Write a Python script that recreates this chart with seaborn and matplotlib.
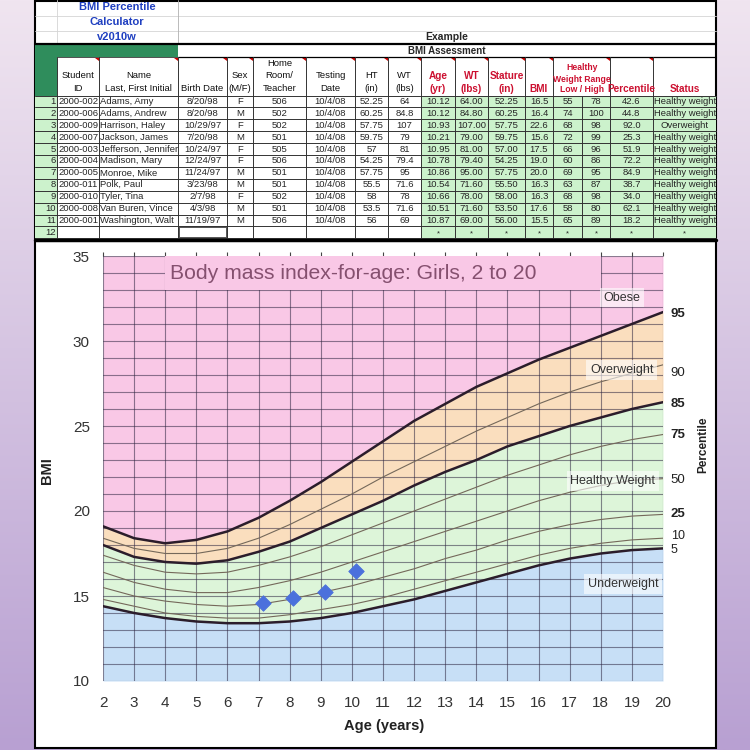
import matplotlib
matplotlib.use("Agg")

import numpy as np
import matplotlib.pyplot as plt
from matplotlib.patches import Rectangle, Polygon
from matplotlib.colors import LinearSegmentedColormap
import seaborn as sns


# ---- chart data (BMI-for-age percentiles, girls) ----
ages = list(range(2, 21))
p5 = [14.4, 14.0, 13.7, 13.5, 13.4, 13.4, 13.5, 13.7, 14.0, 14.4, 14.8, 15.3, 15.8, 16.3, 16.8, 17.2, 17.5, 17.7, 17.8]
p10 = [14.8, 14.4, 14.0, 13.8, 13.7, 13.7, 13.9, 14.2, 14.5, 14.9, 15.4, 15.9, 16.4, 16.9, 17.4, 17.8, 18.1, 18.3, 18.4]
p25 = [15.5, 15.0, 14.7, 14.5, 14.4, 14.5, 14.8, 15.2, 15.6, 16.1, 16.6, 17.2, 17.7, 18.3, 18.8, 19.2, 19.5, 19.7, 19.8]
p50 = [16.4, 15.8, 15.4, 15.2, 15.2, 15.5, 15.9, 16.4, 17.0, 17.6, 18.2, 18.8, 19.4, 20.0, 20.6, 21.1, 21.5, 21.8, 21.9]
p75 = [17.4, 16.8, 16.4, 16.3, 16.4, 16.8, 17.3, 17.9, 18.6, 19.3, 20.0, 20.7, 21.4, 22.1, 22.7, 23.3, 23.8, 24.2, 24.5]
p85 = [18.0, 17.3, 17.0, 16.9, 17.1, 17.6, 18.2, 19.0, 19.8, 20.6, 21.5, 22.3, 23.0, 23.8, 24.4, 25.0, 25.5, 26.0, 26.4]
p90 = [18.4, 17.8, 17.5, 17.5, 17.8, 18.4, 19.2, 20.1, 21.0, 22.0, 22.9, 23.8, 24.7, 25.5, 26.3, 27.0, 27.6, 28.1, 28.6]
p95 = [19.1, 18.4, 18.1, 18.3, 18.8, 19.6, 20.6, 21.7, 22.9, 24.1, 25.3, 26.3, 27.3, 28.1, 28.9, 29.6, 30.3, 31.0, 31.7]
child_age = [7.15, 8.12, 9.12, 10.13]
child_bmi = [14.6, 14.9, 15.25, 16.5]

# ---- spreadsheet data ----
student_ids = ["2000-002", "2000-006", "2000-009", "2000-007", "2000-003", "2000-004",
               "2000-005", "2000-011", "2000-010", "2000-008", "2000-001"]
names = ["Adams, Amy", "Adams, Andrew", "Harrison, Haley", "Jackson, James", "Jefferson, Jennifer",
         "Madison, Mary", "Monroe, Mike", "Polk, Paul", "Tyler, Tina", "Van Buren, Vince", "Washington, Walt"]
birth_dates = ["8/20/98", "8/20/98", "10/29/97", "7/20/98", "10/24/97", "12/24/97",
               "11/24/97", "3/23/98", "2/7/98", "4/3/98", "11/19/97"]
sexes = ["F", "M", "F", "M", "F", "F", "M", "M", "F", "M", "M"]
rooms = ["506", "502", "502", "501", "505", "506", "501", "501", "502", "501", "506"]
test_date = "10/4/08"
heights = ["52.25", "60.25", "57.75", "59.75", "57", "54.25", "57.75", "55.5", "58", "53.5", "56"]
weights = ["64", "84.8", "107", "79", "81", "79.4", "95", "71.6", "78", "71.6", "69"]
ages_yr = [10.12, 10.12, 10.93, 10.21, 10.95, 10.78, 10.86, 10.54, 10.66, 10.51, 10.87]
bmis = [16.5, 16.4, 22.6, 15.6, 17.5, 19.0, 20.0, 16.3, 16.3, 17.6, 15.5]
low_wt = [55, 74, 68, 72, 66, 60, 69, 63, 68, 58, 65]
high_wt = [78, 100, 98, 99, 96, 86, 95, 87, 98, 80, 89]
percentiles = [42.6, 44.8, 92.0, 25.3, 51.9, 72.2, 84.9, 38.7, 34.0, 62.1, 18.2]
statuses = ["Healthy weight", "Healthy weight", "Overweight"] + ["Healthy weight"] * 8

sns.set_style("white")
plt.rcParams["font.family"] = ["Liberation Sans", "DejaVu Sans"]

fig = plt.figure(figsize=(7.5, 7.5), dpi=100)

# background + panel, drawn in pixel coordinates
bg = fig.add_axes([0, 0, 1, 1], zorder=0)
grad = np.linspace(0, 1, 256).reshape(-1, 1)
cmap = LinearSegmentedColormap.from_list("bg", ["#f0e5f0", "#b8a0d2"])
bg.imshow(grad, cmap=cmap, extent=(0, 750, 750, 0), aspect="auto")
bg.set_xlim(0, 750)
bg.set_ylim(750, 0)
bg.axis("off")
bg.add_patch(Rectangle((35, 0.8), 681, 747.2, facecolor="white", edgecolor="black", lw=1.5))

# ---- spreadsheet ----
edges = [35, 57, 99, 178, 227, 253, 306, 355, 388, 421, 455, 488, 525, 553, 582, 610, 653, 716]
row_top, row_h, n_rows = 95.5, 11.9, 12
row_bot = row_top + row_h * n_rows
fs = 6.8
dark_green = "#2f8d5c"
light_green = "#ccf2cc"
red = "#cc1030"

bg.add_patch(Rectangle((35, 44), 143, 13, facecolor=dark_green, lw=0))
bg.add_patch(Rectangle((35, 57), 22, row_top - 57, facecolor=dark_green, lw=0))
bg.add_patch(Rectangle((35, row_top), 22, row_bot - row_top, facecolor=light_green, lw=0))
bg.add_patch(Rectangle((421, row_top), 295, row_bot - row_top, facecolor=light_green, lw=0))

for yy in (15.5, 31):
    bg.plot([35, 716], [yy, yy], color="#d4d4d4", lw=0.6)
bg.plot([57, 57], [0, 44], color="#d4d4d4", lw=0.6)
bg.plot([178, 178], [0, 44], color="#b0b0b0", lw=0.6)
bg.plot([35, 716], [44, 44], color="black", lw=1.6)
bg.plot([178, 716], [57, 57], color="black", lw=0.9)
bg.plot([57, 178], [57, 57], color="#333333", lw=0.6)
for k in range(n_rows + 1):
    yy = row_top + k * row_h
    bg.plot([35, 716], [yy, yy], color="#333333", lw=0.7)
for x in edges[1:-1]:
    y0 = row_top if x == 582 else 57
    bg.plot([x, x], [y0, row_bot], color="#333333", lw=0.7)
bg.plot([35, 716], [240, 240], color="black", lw=2.5)

# comment markers on header cells
for x in edges[2:-1]:
    if x == 582:
        continue
    bg.add_patch(Polygon([(x - 4, 57.5), (x - 0.5, 57.5), (x - 0.5, 61)], closed=True,
                         facecolor="#cc0000", lw=0))

bg.text(117, 7, "BMI Percentile", ha="center", va="center", fontsize=8, fontweight="bold", color="#1f3fc0")
bg.text(117, 22, "Calculator", ha="center", va="center", fontsize=8, fontweight="bold", color="#1f3fc0")
bg.text(117, 37, "v2010w", ha="center", va="center", fontsize=8, fontweight="bold", color="#1f3fc0")
bg.text(447, 37.5, "Example", ha="center", va="center", fontsize=7.5, fontweight="bold")
bg.text(447, 51, "BMI Assessment", ha="center", va="center", fontsize=7, fontweight="bold")


def center(i):
    return (edges[i] + edges[i + 1]) / 2


headers = [
    (1, ["Student", "ID"], False), (2, ["Name", "Last, First Initial"], False),
    (3, ["Birth Date"], False), (4, ["Sex", "(M/F)"], False),
    (5, ["Home", "Room/", "Teacher"], False), (6, ["Testing", "Date"], False),
    (7, ["HT", "(in)"], False), (8, ["WT", "(lbs)"], False),
    (9, ["Age", "(yr)"], True), (10, ["WT", "(lbs)"], True),
    (11, ["Stature", "(in)"], True), (12, ["BMI"], True),
    (15, ["Percentile"], True), (16, ["Status"], True),
]
for col, lines, is_red in headers:
    n = len(lines)
    for j, line in enumerate(lines):
        yy = 88.5 - (n - 1 - j) * 12.5
        bg.text(center(col), yy, line, ha="center", va="center", fontsize=7.2 if is_red else fs,
                fontweight="bold" if is_red else "normal", color=red if is_red else "#111111")
for yy, line in zip([68, 79, 89.5], ["Healthy", "Weight Range", "Low / High"]):
    bg.text(582, yy, line, ha="center", va="center", fontsize=6.2, fontweight="bold", color=red)

status_clip = Rectangle((653, row_top), 62, row_bot - row_top, transform=bg.transData)
for i in range(len(names)):
    yy = row_top + (i + 0.5) * row_h
    bg.text(56, yy, str(i + 1), ha="right", va="center", fontsize=fs)
    bg.text(58.5, yy, student_ids[i], ha="left", va="center", fontsize=fs)
    bg.text(100.5, yy, names[i], ha="left", va="center", fontsize=fs)
    vals = [birth_dates[i], sexes[i], rooms[i], test_date, heights[i], weights[i],
            f"{ages_yr[i]:.2f}", f"{float(weights[i]):.2f}", f"{float(heights[i]):.2f}",
            f"{bmis[i]:.1f}", str(low_wt[i]), str(high_wt[i]), f"{percentiles[i]:.1f}"]
    for col, v in zip(range(3, 16), vals):
        bg.text(center(col), yy, v, ha="center", va="center", fontsize=fs)
    if statuses[i] == "Overweight":
        bg.text(center(16), yy, statuses[i], ha="center", va="center", fontsize=fs)
    else:
        t = bg.text(654.5, yy, statuses[i], ha="left", va="center", fontsize=fs)
        t.set_clip_path(status_clip)
yy = row_top + (n_rows - 0.5) * row_h
bg.text(56, yy, "12", ha="right", va="center", fontsize=fs)
for col in range(9, 17):
    bg.text(center(col), yy + 1.5, "*", ha="center", va="center", fontsize=5.5)
bg.add_patch(Rectangle((178.5, row_bot - row_h + 0.8), 48, row_h - 1.6, facecolor="none",
                       edgecolor="#555555", lw=1.4))

# ---- BMI chart ----
pink, peach, green, blue = "#f9c8e6", "#fadebe", "#ddf5d9", "#c7dff6"
ax = fig.add_axes([103 / 750, 69 / 750, 560 / 750, 425 / 750], zorder=1)
ax.patch.set_alpha(0)

ax.fill_between(ages, p95, 35, color=pink, lw=0)
ax.fill_between(ages, p85, p95, color=peach, lw=0)
ax.fill_between(ages, p5, p85, color=green, lw=0)
ax.fill_between(ages, 10, p5, color=blue, lw=0)

for vals in (p10, p25, p50, p75, p90):
    sns.lineplot(x=ages, y=vals, ax=ax, color="#74685a", lw=0.8)
for vals in (p5, p85, p95):
    sns.lineplot(x=ages, y=vals, ax=ax, color="#2b1d2b", lw=1.8)

sns.scatterplot(x=child_age, y=child_bmi, ax=ax, marker="D", s=62, color="#4b70dc",
                edgecolor="#4b70dc", zorder=5)

ax.set_xlim(2, 20)
ax.set_ylim(10, 35)
ax.set_xticks(ages)
ax.set_yticks(range(10, 36, 5))
ax.set_yticks(range(10, 36), minor=True)
ax.grid(True, which="both", color="#2d2540", alpha=0.55, lw=0.8)
ax.set_axisbelow("line")
for s in ax.spines.values():
    s.set_visible(False)
ax.tick_params(axis="x", bottom=False, top=True, length=3, width=0.8, color="#444444",
               labelsize=11, labelcolor="#333333", pad=8)
ax.tick_params(axis="y", which="major", length=4.5, width=0.8, color="#444444",
               labelsize=11, labelcolor="#333333", pad=5)
ax.tick_params(axis="y", which="minor", length=0)

# title box over the grid
ax.add_patch(Rectangle((4, 33), 14, 2, facecolor=pink, lw=0, zorder=1.8))
ax.text(4.15, 33.95, "Body mass index-for-age: Girls, 2 to 20", fontsize=15.2,
        color="#85506f", va="center", ha="left", zorder=3)

box = dict(facecolor="white", alpha=0.6, edgecolor="none", boxstyle="square,pad=0.3")
ax.text(18.68, 32.55, "Obese", fontsize=9, color="#333333", ha="center", va="center", bbox=box, zorder=4)
ax.text(18.68, 28.3, "Overweight", fontsize=9, color="#333333", ha="center", va="center", bbox=box, zorder=4)
ax.text(18.39, 21.76, "Healthy Weight", fontsize=9, color="#333333", ha="center", va="center", bbox=box, zorder=4)
ax.text(18.71, 15.7, "Underweight", fontsize=9, color="#333333", ha="center", va="center", bbox=box, zorder=4)

pct_names = ["95", "90", "85", "75", "50", "25", "10", "5"]
pct_series = [p95, p90, p85, p75, p50, p25, p10, p5]
pct_shift = [-0.1, -0.5, -0.1, 0.0, -0.1, 0.0, 0.12, -0.12]
pct_bold = [True, False, True, True, False, True, False, False]
for lab, vals, sh, b in zip(pct_names, pct_series, pct_shift, pct_bold):
    ax.text(20.25, vals[-1] + sh, lab, fontsize=9.5 if lab not in ("10", "5") else 9,
            fontweight="bold" if b else "normal",
            color="#222222", ha="left", va="center", clip_on=False)

ax.text(1.071, 0.555, "Percentile", transform=ax.transAxes, rotation=90, fontsize=8.5,
        fontweight="bold", ha="center", va="center", color="#222222")
ax.set_ylabel("BMI", fontsize=10.5, fontweight="bold", color="#222222")
ax.yaxis.set_label_coords(-0.088, 0.496)
ax.set_xlabel("Age (years)", fontsize=10.5, fontweight="bold", color="#222222")
ax.xaxis.set_label_coords(0.502, -0.09)

fig.savefig("out.png", dpi=100)
